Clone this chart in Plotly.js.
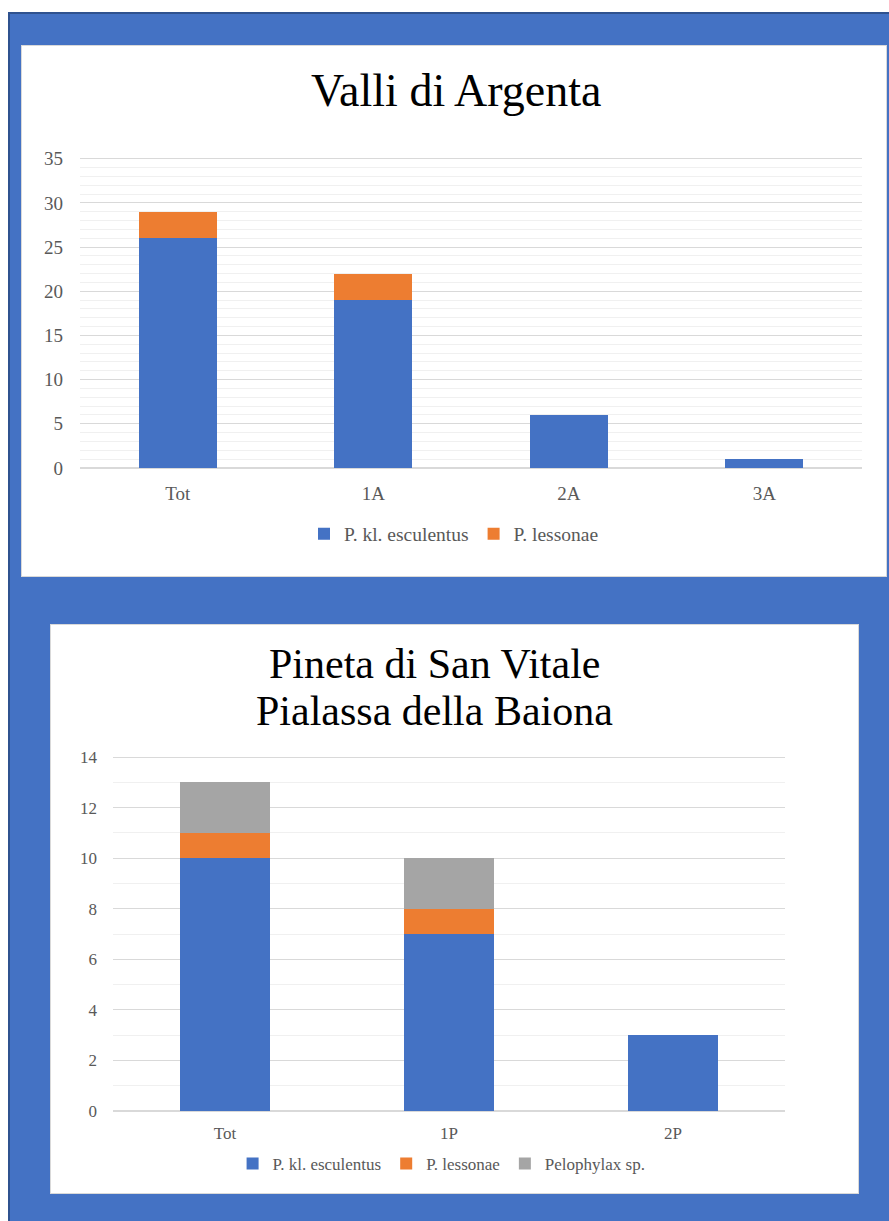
<!DOCTYPE html>
<html>
<head>
<meta charset="utf-8">
<script src="https://cdn.plot.ly/plotly-3.0.1.min.js"></script>
<style>
  html, body { margin:0; padding:0; width:889px; height:1221px; background:#ffffff; overflow:hidden; }
  #frame { position:absolute; left:8px; top:12px; width:881px; height:1209px; background:#4472C4;
           border-top:2px solid #2F528F; border-left:2px solid #2F528F; box-sizing:border-box; }
  .panel { position:absolute; background:#ffffff; box-sizing:border-box; border:1px solid #D9D9D9; }
  #p1 { left:21px; top:45px; width:866px; height:532px; }
  #p2 { left:50px; top:624px; width:809px; height:570px; }
</style>
</head>
<body>
<div id="frame"></div>
<div id="p1" class="panel"></div>
<div id="p2" class="panel"></div>
<script>
// ---- Chart 1: Valli di Argenta ----
const cats1 = ["Tot", "1A", "2A", "3A"];
const esculentus1 = [26, 19, 6, 1];
const lessonae1 = [3, 3, 0, 0];
const seriesNames1 = ["P. kl. esculentus", "P. lessonae"];
const title1 = ["Valli di Argenta"];

// ---- Chart 2: Pineta di San Vitale / Pialassa della Baiona ----
const cats2 = ["Tot", "1P", "2P"];
const esculentus2 = [10, 7, 3];
const lessonae2 = [1, 1, 0];
const pelophylax2 = [2, 2, 0];
const seriesNames2 = ["P. kl. esculentus", "P. lessonae", "Pelophylax sp."];
const title2 = ["Pineta di San Vitale", "Pialassa della Baiona"];

const colors = ["#4472C4", "#ED7D31", "#A5A5A5"];
const FONT = "Liberation Serif, Times New Roman, serif";
const TXT = "#595959";

function bar(x, y, name, color) {
  return { type:"bar", x:x, y:y, name:name, marker:{color:color, line:{width:0}},
           hoverinfo:"x+y+name" };
}

function makeLayout(opts) {
  const anns = opts.title.map((t, i) => ({
    text:t, xref:"paper", yref:"paper", x:opts.tx, y:opts.ty[i],
    xanchor:"center", yanchor:"middle", showarrow:false,
    font:{family:FONT, size:opts.tfs, color:"#000000"}
  }));
  return {
    width: opts.w, height: opts.h,
    paper_bgcolor:"#ffffff", plot_bgcolor:"#ffffff",
    margin: opts.margin,
    barmode:"stack", bargap:0.6,
    font:{family:FONT, color:TXT, size:opts.fs},
    annotations: anns,
    xaxis:{type:"category", showgrid:false, showline:false, ticks:"", zeroline:false,
           ticklabelstandoff:opts.xso,
           tickfont:{family:FONT, size:opts.fs, color:TXT}, fixedrange:true},
    yaxis:{range:[0, opts.ymax], dtick:opts.dtick, tick0:0, showgrid:true, gridcolor:"#D9D9D9",
           gridwidth:1, zeroline:true, zerolinecolor:"#D9D9D9", zerolinewidth:1.5,
           showline:false, ticks:"", ticklen:0, ticklabelstandoff:opts.yso,
           tickfont:{family:FONT, size:opts.fs, color:TXT},
           minor:{dtick:1, tick0:0, showgrid:true, gridcolor:"#F0F0F0", gridwidth:1, ticks:""},
           fixedrange:true},
    showlegend:true,
    legend:{orientation:"h", x:opts.lx, xref:"container", xanchor:"center",
            y:opts.ly, yref:"container", yanchor:"middle",
            font:{family:FONT, size:opts.lfs, color:TXT}, traceorder:"normal",
            itemwidth:30, tracegroupgap:0, bgcolor:"rgba(0,0,0,0)"}
  };
}

Plotly.newPlot("p1", [
  bar(cats1, esculentus1, seriesNames1[0], colors[0]),
  bar(cats1, lessonae1, seriesNames1[1], colors[1])
], makeLayout({w:864, h:530, margin:{l:58, r:24, t:111, b:108, pad:0},
  title:title1, tx:0.481, ty:[1.213], tfs:46, fs:19, lfs:19.5,
  ymax:35.2, dtick:5, lx:0.50, ly:0.079, xso:12, yso:16}), {displayModeBar:false, staticPlot:true});

Plotly.newPlot("p2", [
  bar(cats2, esculentus2, seriesNames2[0], colors[0]),
  bar(cats2, lessonae2, seriesNames2[1], colors[1]),
  bar(cats2, pelophylax2, seriesNames2[2], colors[2])
], makeLayout({w:807, h:568, margin:{l:62, r:73, t:130, b:82, pad:0},
  title:title2, tx:0.479, ty:[1.257, 1.124], tfs:42, fs:17, lfs:17,
  ymax:14.08, dtick:2, lx:0.484, ly:0.051, xso:10, yso:15}), {displayModeBar:false, staticPlot:true});
</script>
</body>
</html>
